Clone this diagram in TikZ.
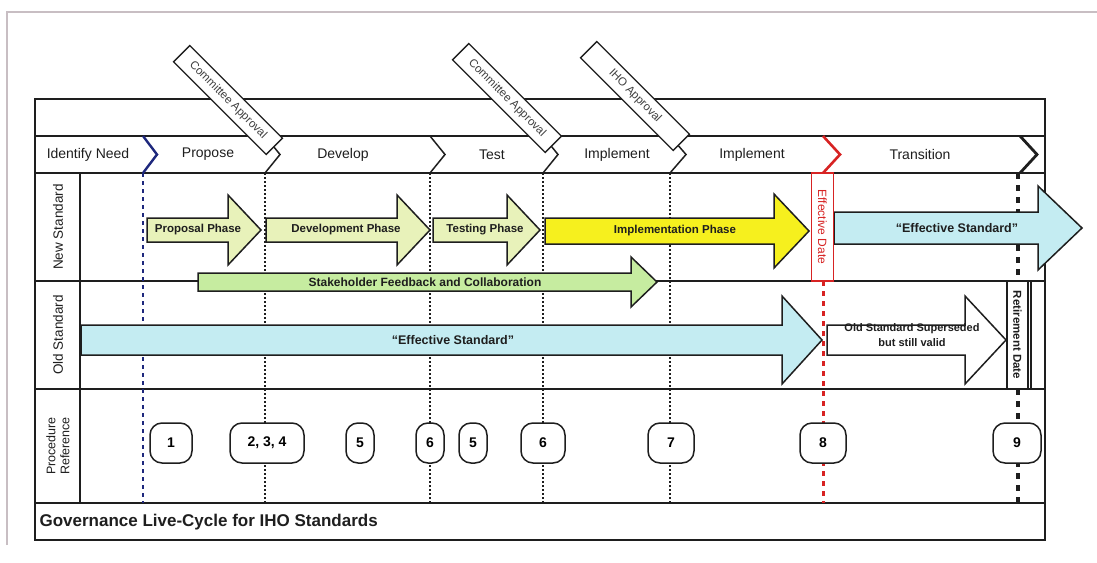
\documentclass[tikz,border=0pt]{standalone}
\usepackage{fontspec}
\setmainfont{Liberation Sans}
\definecolor{navy}{RGB}{30,40,125}
\definecolor{redl}{RGB}{215,35,35}
\definecolor{paleg}{RGB}{232,242,186}
\definecolor{stakeg}{RGB}{198,236,160}
\definecolor{yel}{RGB}{246,240,30}
\definecolor{lblue}{RGB}{196,236,242}
\definecolor{frameg}{RGB}{200,190,195}
\definecolor{ink}{RGB}{30,30,30}
\newcommand\myArrow[7]{%
  \draw[#1] (#2,#5-#6) -- (#3,#5-#6) -- (#3,#5-#7) -- (#4,#5) -- (#3,#5+#7) -- (#3,#5+#6) -- (#2,#5+#6) -- cycle;}
\begin{document}
\begin{tikzpicture}[x=1pt,y=-1pt,
  frame/.style={line width=1.7pt, draw=ink},
  phase/.style={font=\fontsize{14}{16}\selectfont, text=ink},
  chev/.style={line width=1.5pt, draw=ink, line join=miter},
  dotl/.style={line width=1.4pt, draw=ink, dash pattern=on 2pt off 2pt},
  barr/.style={draw=ink, line width=1.5pt, line join=miter},
  alab/.style={font=\bfseries\fontsize{11.5}{13}\selectfont, text=ink},
  procn/.style={draw=ink, line width=1.5pt, fill=white, rounded corners=12pt,
     minimum height=40pt, inner sep=1pt, font=\bfseries\fontsize{14}{16}\selectfont},
  appr/.style={draw=ink, line width=1.3pt, fill=white, minimum width=131pt,
     minimum height=23pt, inner sep=1pt, rotate=-45, text=black!75,
     font=\fontsize{11.5}{12}\selectfont},
  rowlab/.style={rotate=90, font=\fontsize{13.5}{14}\selectfont, text=ink, align=center}
]
\useasboundingbox (0,0) rectangle (1097,562);
% faint outer frame
\draw[frameg, line width=1.4pt] (7,545) -- (7,12) -- (1097,12);
% main grid
\draw[frame] (35,99) rectangle (1045,540);
\draw[frame] (35,136) -- (1045,136);
\draw[frame] (35,173) -- (1045,173);
\draw[frame] (35,281) -- (1045,281);
\draw[frame] (35,389) -- (1045,389);
\draw[frame] (35,503) -- (1045,503);
\draw[frame] (80,173) -- (80,503);
% milestone lines
\coordinate (m1t) at (143,173); \coordinate (m1b) at (143,503);
\coordinate (m2t) at (265,173); \coordinate (m2b) at (265,503);
\coordinate (m3t) at (430,173); \coordinate (m3b) at (430,503);
\coordinate (m4t) at (543,173); \coordinate (m4b) at (543,503);
\coordinate (m5t) at (670,173); \coordinate (m5b) at (670,503);
\coordinate (m6t) at (823,281); \coordinate (m6b) at (823,503);
\coordinate (m7t) at (1018,173); \coordinate (m7b) at (1018,503);
\draw[navy, line width=2.4pt, dash pattern=on 4pt off 4pt] (m1t) -- (m1b);
\draw[dotl] (m2t) -- (m2b);
\draw[dotl] (m3t) -- (m3b);
\draw[dotl] (m4t) -- (m4b);
\draw[dotl] (m5t) -- (m5b);
\draw[redl, line width=3pt, dash pattern=on 5pt off 5pt] (m6t) -- (m6b);
\draw[ink, line width=3.2pt, dash pattern=on 6pt off 6pt] (m7t) -- (m7b);
% chevrons in phase row
\draw[navy, line width=2.4pt, line join=miter] (143,136) -- (157,154.5) -- (143,173);
\draw[chev] (265,136) -- (280,154.5) -- (265,173);
\draw[chev] (430,136) -- (445,154.5) -- (430,173);
\draw[chev] (543,136) -- (558,154.5) -- (543,173);
\draw[chev] (670,136) -- (686,154.5) -- (670,173);
\draw[redl, line width=2.6pt, line join=miter] (823,136) -- (840,154.5) -- (823,173);
\draw[ink, line width=2.8pt, line join=miter] (1020,136) -- (1037,154.5) -- (1020,173);
% phase labels
\node[phase] (ph1) at (88,154.5) {Identify Need};
\node[phase] (ph2) at (208,154.5) {Propose};
\node[phase] (ph3) at (343,154.5) {Develop};
\node[phase] (ph4) at (492,154.5) {Test};
\node[phase] (ph5) at (617,154.5) {Implement};
\node[phase] (ph6) at (752,154.5) {Implement};
\node[phase] (ph7) at (920,154.5) {Transition};
% row labels
\node[rowlab] (rl1) at (58,227) {New Standard};
\node[rowlab] (rl2) at (58,335) {Old Standard};
\node[rowlab, font=\fontsize{12.5}{14}\selectfont] (rl3) at (58,446) {Procedure\\Reference};
% new standard arrows
\myArrow{barr, fill=paleg}{147}{228}{261}{230}{12}{35}
\myArrow{barr, fill=paleg}{266}{397}{430}{230}{12}{35}
\myArrow{barr, fill=paleg}{433}{507}{540}{230}{12}{35}
\myArrow{barr, fill=yel}{545}{774}{809}{231}{13}{37}
\myArrow{barr, fill=stakeg}{198}{631}{657}{282}{9}{25}
\myArrow{barr, fill=lblue}{834}{1038}{1082}{228}{16}{42}
% old standard arrows
\myArrow{barr, fill=lblue}{81}{782}{822}{340}{15}{44}
\myArrow{barr, fill=white}{827}{965}{1006}{340}{15}{44}
% arrow labels
\node[alab] (a1) at (198,230) {Proposal Phase};
\node[alab] (a2) at (346,230) {Development Phase};
\node[alab] (a3) at (485,230) {Testing Phase};
\node[alab] (a4) at (675,231) {Implementation Phase};
\node[alab, font=\bfseries\fontsize{12}{13}\selectfont] (a5) at (425,282) {Stakeholder Feedback and Collaboration};
\node[alab, font=\bfseries\fontsize{12.5}{13}\selectfont] (a6) at (957,228) {“Effective Standard”};
\node[alab, font=\bfseries\fontsize{12.5}{13}\selectfont] (a7) at (453,340) {“Effective Standard”};
\node[alab, align=center, font=\bfseries\fontsize{11}{15}\selectfont] (a8) at (912,335) {Old Standard Superseded\\but still valid};
% date boxes
\node[rotate=-90, draw=redl, line width=1.6pt, fill=white, minimum width=108pt,
  minimum height=22pt, inner sep=0pt, text=redl, font=\fontsize{12}{13}\selectfont] (effd) at (822.5,227) {Effective Date};
\node[rotate=-90, draw=ink, line width=1.4pt, fill=white, minimum width=108pt,
  minimum height=21pt, inner sep=0pt, text=ink, font=\bfseries\fontsize{11.5}{13}\selectfont] (ret) at (1017.5,335) {Retirement Date};
\draw[ink, line width=1.3pt] (1031,281) -- (1031,389);
% procedure references
\node[procn, minimum width=42pt] (p1) at (171,443) {1};
\node[procn, minimum width=74pt] (p234) at (267,443) {2, 3, 4};
\node[procn, minimum width=28pt] (p5a) at (360,443) {5};
\node[procn, minimum width=28pt] (p6a) at (430,443) {6};
\node[procn, minimum width=28pt] (p5b) at (473,443) {5};
\node[procn, minimum width=44pt] (p6b) at (543,443) {6};
\node[procn, minimum width=46pt] (p7) at (671,443) {7};
\node[procn, minimum width=46pt] (p8) at (823,443) {8};
\node[procn, minimum width=48pt] (p9) at (1017,443) {9};
% approvals
\node[appr] (ca1) at (228,100) {Committee Approval};
\node[appr] (ca2) at (507,98) {Committee Approval};
\node[appr] (iho) at (635,96) {IHO Approval};
% title
\node[anchor=west, font=\bfseries\fontsize{17}{19}\selectfont, text=ink] (title) at (36,522) {Governance Live-Cycle for IHO Standards};
\end{tikzpicture}
\end{document}
